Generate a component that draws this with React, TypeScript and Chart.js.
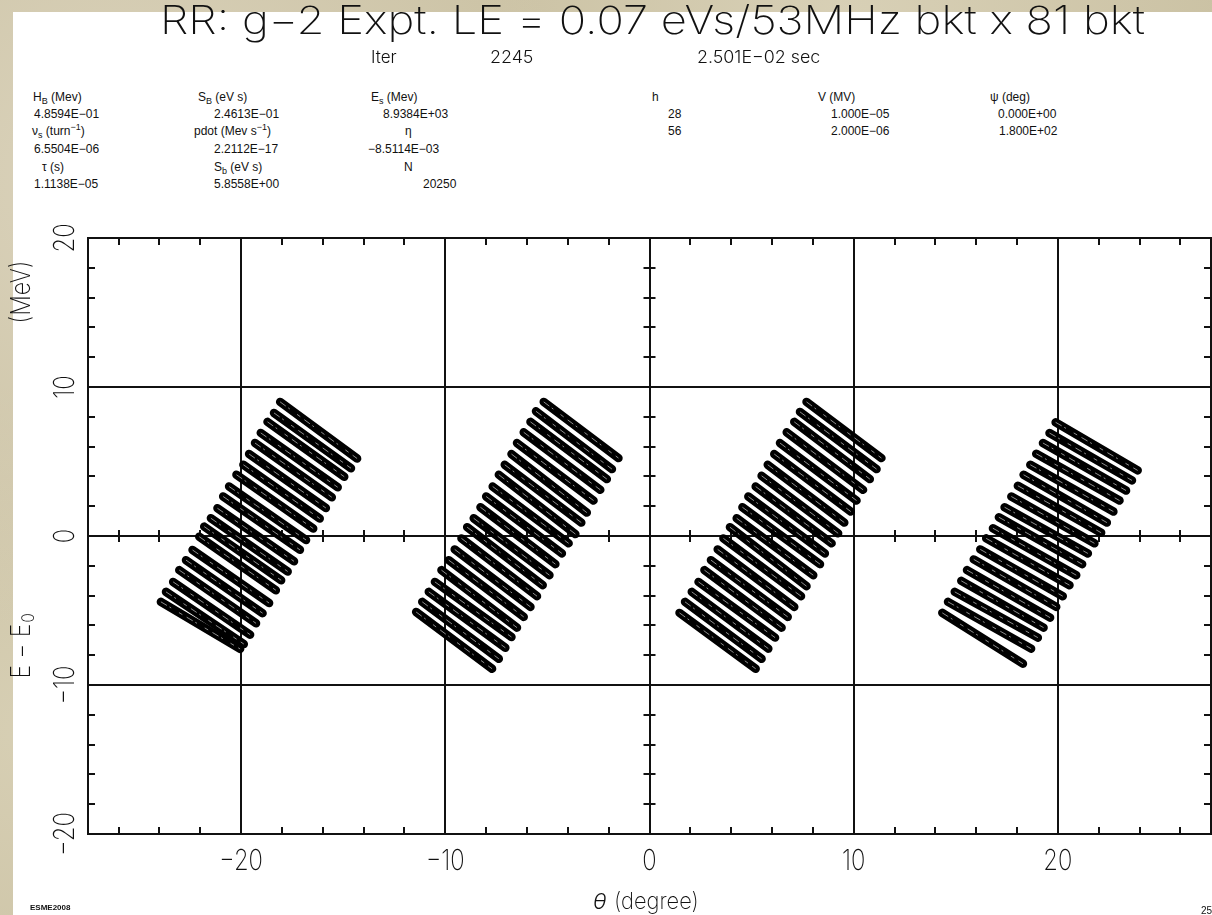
import React, { useEffect, useRef } from "react";
import { Chart, registerables } from "chart.js";
Chart.register(...registerables);

// ---- axes ----
const X_MIN = -27.5;
const X_MAX = 27.5;
const Y_MIN = -20;
const Y_MAX = 20;
const xMajor = [-20, -10, 0, 10, 20];
const yMajor = [-20, -10, 0, 10, 20];
const xTickLabels = ["\u221220", "\u221210", "0", "10", "20"];
const yTickLabels = ["\u221220", "\u221210", "0", "10", "20"];
const MINOR_STEP = 2;

// ---- particle streaks (start / end of each filament) ----
const bunchAStarts = [
  [-18.09, 9.0], [-18.39, 8.26], [-18.71, 7.66], [-19.04, 6.92], [-19.32, 6.24],
  [-19.61, 5.5], [-19.89, 4.78], [-20.23, 4.11], [-20.59, 3.32], [-20.88, 2.65],
  [-21.16, 1.86], [-21.48, 1.19], [-21.81, 0.63], [-22.05, -0.05], [-22.38, -0.94],
  [-22.7, -1.62], [-23.03, -2.29], [-23.33, -3.08], [-23.68, -3.75], [-23.93, -4.42],
];
const bunchAEnds = [
  [-14.32, 5.2], [-14.62, 4.55], [-14.95, 3.98], [-15.27, 3.27], [-15.56, 2.6],
  [-15.85, 1.88], [-16.15, 1.17], [-16.47, 0.5], [-16.82, -0.27], [-17.12, -0.93],
  [-17.41, -1.7], [-17.72, -2.38], [-18.04, -2.97], [-18.3, -3.64], [-18.63, -4.5],
  [-18.95, -5.18], [-19.27, -5.86], [-19.56, -6.62], [-19.87, -7.25], [-20.05, -7.58],
];
const bunchBStarts = [
  [-5.18, 9.0], [-5.56, 8.37], [-5.83, 7.66], [-6.16, 6.96], [-6.49, 6.24],
  [-6.76, 5.5], [-7.09, 4.78], [-7.38, 4.11], [-7.68, 3.32], [-8.0, 2.65],
  [-8.28, 1.93], [-8.61, 1.19], [-8.93, 0.59], [-9.21, -0.16], [-9.54, -0.9],
  [-9.83, -1.62], [-10.19, -2.29], [-10.51, -3.08], [-10.81, -3.75], [-11.13, -4.42],
  [-11.43, -5.1],
];
const bunchBEnds = [
  [-1.52, 5.23], [-1.84, 4.49], [-2.09, 3.82], [-2.41, 3.1], [-2.74, 2.38],
  [-3.07, 1.57], [-3.34, 0.9], [-3.63, 0.13], [-3.96, -0.49], [-4.29, -1.17],
  [-4.61, -1.89], [-4.9, -2.63], [-5.23, -3.3], [-5.51, -4.04], [-5.83, -4.76],
  [-6.16, -5.43], [-6.49, -6.15], [-6.76, -6.78], [-7.06, -7.5], [-7.38, -8.24],
  [-7.71, -8.91],
];
const bunchCStarts = [
  [7.69, 9.0], [7.37, 8.33], [7.09, 7.66], [6.72, 6.96], [6.39, 6.24],
  [6.11, 5.5], [5.79, 4.78], [5.49, 4.04], [5.2, 3.32], [4.84, 2.65],
  [4.55, 1.93], [4.27, 1.19], [3.94, 0.59], [3.62, -0.16], [3.34, -0.9],
  [3.01, -1.62], [2.69, -2.29], [2.4, -3.08], [2.07, -3.75], [1.74, -4.42],
  [1.47, -5.16],
];
const bunchCEnds = [
  [11.36, 5.23], [11.12, 4.49], [10.79, 3.82], [10.46, 3.1], [10.14, 2.38],
  [9.86, 1.64], [9.54, 0.9], [9.24, 0.18], [8.92, -0.49], [8.59, -1.17],
  [8.35, -1.89], [8.02, -2.63], [7.69, -3.37], [7.42, -4.04], [7.09, -4.76],
  [6.77, -5.43], [6.47, -6.15], [6.15, -6.82], [5.82, -7.56], [5.49, -8.24],
  [5.2, -8.91],
];
const bunchDStarts = [
  [19.89, 7.63], [19.59, 6.91], [19.27, 6.24], [18.94, 5.52], [18.65, 4.78],
  [18.32, 4.11], [18.04, 3.37], [17.72, 2.65], [17.39, 1.93], [17.11, 1.26],
  [16.82, 0.52], [16.49, -0.16], [16.2, -0.9], [15.88, -1.57], [15.55, -2.29],
  [15.27, -3.01], [14.95, -3.75], [14.62, -4.42], [14.34, -5.16],
];
const bunchDEnds = [
  [23.91, 4.4], [23.63, 3.73], [23.34, 3.05], [23.02, 2.38], [22.72, 1.64],
  [22.4, 0.9], [22.12, 0.22], [21.79, -0.49], [21.47, -1.17], [21.19, -1.89],
  [20.9, -2.63], [20.57, -3.3], [20.24, -4.04], [19.92, -4.76], [19.62, -5.48],
  [19.3, -6.15], [19.02, -6.82], [18.69, -7.56], [18.29, -8.57],
];

const bunches = [
  [bunchAStarts, bunchAEnds],
  [bunchBStarts, bunchBEnds],
  [bunchCStarts, bunchCEnds],
  [bunchDStarts, bunchDEnds],
];

const THIN = "'Inter', 'Liberation Sans', sans-serif";

function drawSquished(ctx: CanvasRenderingContext2D, text: string, x: number, y: number, font: string, sx: number, align: "left" | "center") {
  ctx.save();
  ctx.font = font;
  const w = ctx.measureText(text).width * sx;
  ctx.translate(align === "center" ? x - w / 2 : x, y);
  ctx.scale(sx, 1);
  ctx.textAlign = "left";
  ctx.textBaseline = "middle";
  ctx.fillText(text, 0, 0);
  ctx.restore();
}

const framePlugin = {
  id: "frame",
  beforeDatasetsDraw(chart: any) {
    const { ctx, chartArea, scales } = chart;
    const { left, right, top, bottom } = chartArea;
    const xs = scales.x;
    const ys = scales.y;
    ctx.save();
    ctx.strokeStyle = "#111";
    ctx.lineWidth = 2;
    ctx.beginPath();
    xMajor.forEach((v) => {
      const p = Math.round(xs.getPixelForValue(v));
      ctx.moveTo(p, top);
      ctx.lineTo(p, bottom);
    });
    yMajor.forEach((v) => {
      if (v === Y_MIN || v === Y_MAX) return;
      const p = Math.round(ys.getPixelForValue(v));
      ctx.moveTo(left, p);
      ctx.lineTo(right, p);
    });
    ctx.stroke();
    ctx.strokeRect(left, top, right - left, bottom - top);

    const x0 = xs.getPixelForValue(0);
    const y0 = ys.getPixelForValue(0);
    ctx.beginPath();
    for (let v = Math.ceil(X_MIN / MINOR_STEP) * MINOR_STEP; v <= X_MAX; v += MINOR_STEP) {
      const p = Math.round(xs.getPixelForValue(v));
      ctx.moveTo(p, top);
      ctx.lineTo(p, top + 7);
      ctx.moveTo(p, bottom);
      ctx.lineTo(p, bottom - 7);
      ctx.moveTo(p, y0 - 6);
      ctx.lineTo(p, y0 + 6);
    }
    for (let v = Y_MIN + MINOR_STEP; v < Y_MAX; v += MINOR_STEP) {
      const p = Math.round(ys.getPixelForValue(v));
      ctx.moveTo(left, p);
      ctx.lineTo(left + 7, p);
      ctx.moveTo(right, p);
      ctx.lineTo(right - 7, p);
      ctx.moveTo(x0 - 6, p);
      ctx.lineTo(x0 + 6, p);
    }
    ctx.stroke();
    ctx.restore();
  },
  afterDraw(chart: any) {
    const { ctx, scales } = chart;
    const xs = scales.x;
    const ys = scales.y;
    ctx.save();
    ctx.fillStyle = "#111";
    // title
    const titleFont = `200 39px ${THIN}`;
    ctx.font = titleFont;
    const title = "RR: g\u22122 Expt. LE = 0.07 eVs/53MHz bkt x 81 bkt";
    const tw = ctx.measureText(title).width;
    drawSquished(ctx, title, 160, 22, titleFont, 985 / tw, "left");
    // iteration row
    drawSquished(ctx, "Iter", 371, 58, `300 17px ${THIN}`, 1, "left");
    drawSquished(ctx, "2245", 490, 58, `300 17px ${THIN}`, 1.05, "left");
    drawSquished(ctx, "2.501E\u221202 sec", 697, 58, `300 17px ${THIN}`, 1.05, "left");

    // x tick labels
    xMajor.forEach((v, i) => {
      drawSquished(ctx, xTickLabels[i], xs.getPixelForValue(v), 861, `200 29px ${THIN}`, 0.82, "center");
    });
    // y tick labels (rotated)
    yMajor.forEach((v, i) => {
      const p = ys.getPixelForValue(v);
      ctx.save();
      ctx.translate(65, p);
      ctx.rotate(-Math.PI / 2);
      drawSquished(ctx, yTickLabels[i], 0, 0, `200 29px ${THIN}`, 0.82, "center");
      ctx.restore();
    });
    // y title in two parts
    ctx.save();
    ctx.translate(22, 292);
    ctx.rotate(-Math.PI / 2);
    drawSquished(ctx, "(MeV)", 0, 0, `200 27px ${THIN}`, 0.85, "center");
    ctx.restore();
    ctx.save();
    ctx.translate(22, 645);
    ctx.rotate(-Math.PI / 2);
    ctx.font = `200 27px ${THIN}`;
    const mainW = ctx.measureText("E \u2212 E").width * 0.85;
    drawSquished(ctx, "E \u2212 E", -mainW / 2 - 6, 0, `200 27px ${THIN}`, 0.85, "left");
    drawSquished(ctx, "0", mainW / 2 - 5, 7, `200 17px ${THIN}`, 0.9, "left");
    ctx.restore();
    // x title
    ctx.font = `italic 300 22px ${THIN}`;
    ctx.textBaseline = "middle";
    ctx.textAlign = "left";
    ctx.fillText("\u03b8", 593, 902);
    drawSquished(ctx, "(degree)", 614, 902, `200 23px ${THIN}`, 0.95, "left");
    // footer marks
    ctx.font = "bold 8px 'Liberation Sans', sans-serif";
    ctx.fillText("ESME2008", 30, 908);
    ctx.font = "10px 'Liberation Sans', sans-serif";
    ctx.fillText("25", 1201, 911);
    ctx.restore();
  },
};

type Item = { x: number; y: number; c: React.ReactNode };
const sub = (t: string) => <sub style={{ fontSize: 9, verticalAlign: -3, lineHeight: 0 }}>{t}</sub>;
const sup = (t: string) => <sup style={{ fontSize: 9, verticalAlign: 5, lineHeight: 0 }}>{t}</sup>;

const headerItems: Item[] = [
  { x: 33, y: 97, c: <>H{sub("B")} (Mev)</> },
  { x: 34, y: 114, c: "4.8594E\u221201" },
  { x: 32, y: 131, c: <>&#957;{sub("s")} (turn{sup("\u22121")})</> },
  { x: 34, y: 149, c: "6.5504E\u221206" },
  { x: 42, y: 167, c: <>&#964; (s)</> },
  { x: 34, y: 184, c: "1.1138E\u221205" },
  { x: 198, y: 97, c: <>S{sub("B")} (eV s)</> },
  { x: 214, y: 114, c: "2.4613E\u221201" },
  { x: 194, y: 131, c: <>pdot (Mev s{sup("\u22121")})</> },
  { x: 214, y: 149, c: "2.2112E\u221217" },
  { x: 214, y: 167, c: <>S{sub("b")} (eV s)</> },
  { x: 214, y: 184, c: "5.8558E+00" },
  { x: 371, y: 97, c: <>E{sub("s")} (Mev)</> },
  { x: 383, y: 114, c: "8.9384E+03" },
  { x: 405, y: 131, c: <>&#951;</> },
  { x: 368, y: 149, c: "\u22128.5114E\u221203" },
  { x: 404, y: 167, c: "N" },
  { x: 423, y: 184, c: "20250" },
  { x: 652, y: 97, c: "h" },
  { x: 668, y: 114, c: "28" },
  { x: 668, y: 131, c: "56" },
  { x: 818, y: 97, c: "V (MV)" },
  { x: 831, y: 114, c: "1.000E\u221205" },
  { x: 831, y: 131, c: "2.000E\u221206" },
  { x: 990, y: 97, c: <>&#968; (deg)</> },
  { x: 998, y: 114, c: "0.000E+00" },
  { x: 999, y: 131, c: "1.800E+02" },
];

export default function App() {
  const ref = useRef<HTMLCanvasElement | null>(null);
  useEffect(() => {
    if (!ref.current) return;
    const datasets: any[] = [];
    bunches.forEach(([starts, ends]) => {
      starts.forEach((s, i) => {
        const e = ends[i];
        datasets.push({
          data: [{ x: s[0], y: s[1] }, { x: e[0], y: e[1] }],
          showLine: true,
          borderColor: "#000",
          borderWidth: 8.5,
          borderCapStyle: "round",
          pointRadius: 0,
          pointHoverRadius: 0,
          order: 2,
        });
      });
    });
    bunches.forEach(([starts, ends]) => {
      starts.forEach((s, i) => {
        const e = ends[i];
        datasets.push({
          data: [{ x: s[0], y: s[1] }, { x: e[0], y: e[1] }],
          showLine: true,
          borderColor: "rgba(255,255,255,0.55)",
          borderWidth: 1,
          borderDash: [7, 3, 2, 9, 4, 5],
          pointRadius: 0,
          pointHoverRadius: 0,
          order: 1,
        });
      });
    });
    const chart = new Chart(ref.current, {
      type: "scatter",
      data: { datasets },
      options: {
        responsive: false,
        animation: false,
        layout: { padding: { left: 88, right: 1, top: 238, bottom: 81 } },
        scales: {
          x: { type: "linear", min: X_MIN, max: X_MAX, display: false },
          y: { type: "linear", min: Y_MIN, max: Y_MAX, display: false },
        },
        plugins: { legend: { display: false }, tooltip: { enabled: false } },
      },
      plugins: [framePlugin],
    });
    return () => chart.destroy();
  }, []);

  return (
    <div
      style={{
        position: "fixed",
        left: 0,
        top: 0,
        width: 1212,
        height: 915,
        overflow: "hidden",
        background:
          "radial-gradient(circle at 10% 20%, #dbd3bc 0%, rgba(219,211,188,0) 35%), radial-gradient(circle at 70% 2%, #d8d0b6 0%, rgba(216,208,182,0) 30%), radial-gradient(circle at 3% 80%, #d7cfb4 0%, rgba(215,207,180,0) 25%), #cbc2a4",
      }}
    >
      <div style={{ position: "absolute", left: 13, top: 12, width: 1199, height: 903, background: "#fff" }} />
      <div style={{ position: "absolute", left: 0, top: 0, width: 1212, height: 915, fontFamily: "'Liberation Sans', Arial, sans-serif", fontSize: 12, color: "#111" }}>
        {headerItems.map((it, i) => (
          <div key={i} style={{ position: "absolute", left: it.x, top: it.y - 7, whiteSpace: "nowrap", lineHeight: "14px" }}>
            {it.c}
          </div>
        ))}
      </div>
      <canvas ref={ref} width={1212} height={915} style={{ position: "absolute", left: 0, top: 0, width: 1212, height: 915 }} />
    </div>
  );
}
